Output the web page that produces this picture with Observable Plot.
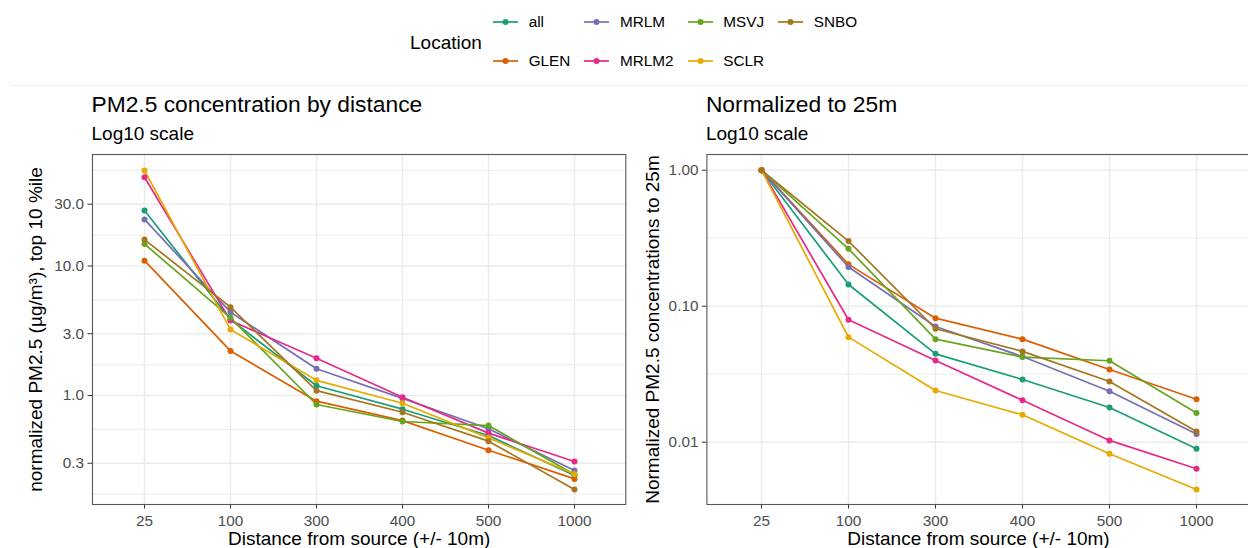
<!DOCTYPE html>
<html><head><meta charset="utf-8">
<script src="https://cdn.jsdelivr.net/npm/d3@7"></script>
<script src="https://cdn.jsdelivr.net/npm/@observablehq/plot@0.6"></script>
<style>
html,body{margin:0;padding:0;width:1248px;height:548px;overflow:hidden;background:#fff;font-family:"Liberation Sans",Arial,sans-serif;}
#root{position:relative;width:1248px;height:548px;overflow:hidden;}
#root svg{position:absolute;top:0;}
.leg-title{position:absolute;left:410px;top:31px;height:24px;line-height:24px;font-size:19px;color:#000;}
.leg{position:absolute;left:493px;top:3px;display:grid;grid-template-rows:38.7px 38.7px;grid-auto-flow:column;column-gap:14px;}
.leg-item{display:flex;align-items:center;font-size:15.3px;color:#000;white-space:nowrap;}
.leg-item svg{position:static !important;margin-right:10.7px;}
.sep{position:absolute;left:10px;top:85px;width:1238px;height:1px;background:#f0f0f0;}
</style></head><body><div id="root"></div>
<script>
// ---- data ----
const distances = ["25","100","300","400","500","1000"];
const locations = ["all","GLEN","MRLM","MRLM2","MSVJ","SCLR","SNBO"];
const palette = ["#1B9E77","#D95F02","#7570B3","#E7298A","#66A61E","#E6AB02","#A6761D"];

// top-10%ile PM2.5 concentration (µg/m3) by distance
const conc_all   = [26.8, 3.86, 1.19, 0.784, 0.491, 0.241];
const conc_GLEN  = [11.0, 2.21, 0.904, 0.64, 0.378, 0.227];
const conc_MRLM  = [22.9, 4.40, 1.61, 0.95, 0.553, 0.264];
const conc_MRLM2 = [48.5, 3.79, 1.94, 0.97, 0.512, 0.309];
const conc_MSVJ  = [14.8, 3.98, 0.852, 0.63, 0.586, 0.245];
const conc_SCLR  = [54.6, 3.23, 1.31, 0.872, 0.471, 0.248];
const conc_SNBO  = [16.0, 4.81, 1.09, 0.743, 0.444, 0.188];

// normalized to the 25 m value
const norm_all   = [1, 0.1444, 0.0446, 0.0289, 0.0180, 0.00893];
const norm_GLEN  = [1, 0.203, 0.0816, 0.0572, 0.0342, 0.0207];
const norm_MRLM  = [1, 0.194, 0.0709, 0.0426, 0.0237, 0.0115];
const norm_MRLM2 = [1, 0.0794, 0.0399, 0.0203, 0.0103, 0.00637];
const norm_MSVJ  = [1, 0.264, 0.0572, 0.0422, 0.0397, 0.0164];
const norm_SCLR  = [1, 0.0592, 0.0240, 0.0159, 0.00822, 0.00449];
const norm_SNBO  = [1, 0.301, 0.0682, 0.0465, 0.0279, 0.0120];

// tick labels / grid breaks
const leftTicks  = [0.3, 1, 3, 10, 30];
const rightTicks = [0.01, 0.1, 1];

const concSeries = [conc_all, conc_GLEN, conc_MRLM, conc_MRLM2, conc_MSVJ, conc_SCLR, conc_SNBO];
const normSeries = [norm_all, norm_GLEN, norm_MRLM, norm_MRLM2, norm_MSVJ, norm_SCLR, norm_SNBO];

function longTable(series) {
  return locations.flatMap((loc, i) => distances.map((d, j) => ({loc, distance: d, value: series[i][j]})));
}
// ggplot-style minor breaks: log-midpoints between consecutive (extended) majors
function minorBreaks(majors) {
  const lg = majors.map(Math.log10);
  const step0 = lg[1] - lg[0], stepN = lg[lg.length-1] - lg[lg.length-2];
  const first = Math.abs(step0 - 1) < 1e-9 ? lg[0] - 1 : Math.floor(lg[0]);
  const last = Math.abs(stepN - 1) < 1e-9 ? lg[lg.length-1] + 1 : Math.ceil(lg[lg.length-1]);
  const full = [first, ...lg, last];
  const out = [];
  for (let i = 0; i < full.length - 1; i++) out.push(Math.pow(10, (full[i] + full[i+1]) / 2));
  return out;
}

const FONT = '"Liberation Sans", Arial, sans-serif';

function panel(o) {
  const minors = minorBreaks(o.majors).filter(v => v > o.yDomain[0] && v < o.yDomain[1]);
  return Plot.plot({
    width: o.width, height: 548,
    marginLeft: o.marginLeft, marginRight: o.marginRight, marginTop: 154, marginBottom: 44,
    style: {fontFamily: FONT, fontSize: "15.3px", background: "transparent", overflow: "visible"},
    x: {type: "point", domain: distances, padding: 0.6},
    y: {type: "log", domain: o.yDomain},
    color: {domain: locations, range: palette},
    marks: [
      Plot.ruleY(minors, {stroke: "#ebebeb", strokeWidth: 0.9}),
      Plot.ruleY(o.majors, {stroke: "#ebebeb", strokeWidth: 1.5}),
      Plot.ruleX(distances, {stroke: "#ebebeb", strokeWidth: 1.5}),
      Plot.axisX({tickSize: 4.5, tickPadding: 6.5, label: null, color: "#4d4d4d", stroke: "#333", fontSize: 15.3}),
      Plot.axisY({ticks: o.majors, tickFormat: o.fmt, tickSize: 4.5, tickPadding: 4, label: null, color: "#4d4d4d", stroke: "#333", fontSize: 15.3}),
      Plot.line(o.data, {x: "distance", y: "value", z: "loc", stroke: "loc", strokeWidth: 1.7}),
      Plot.dot(o.data, {x: "distance", y: "value", fill: "loc", r: 3}),
      Plot.frame({stroke: "#555", strokeWidth: 1.1}),
      Plot.text([o.title], {text: d => d, frameAnchor: "top-left", textAnchor: "start", lineAnchor: "middle", dx: -1, dy: -49.8, fontSize: 22.8, fill: "#000"}),
      Plot.text(["Log10 scale"], {text: d => d, frameAnchor: "top-left", textAnchor: "start", lineAnchor: "middle", dx: -1, dy: -20.7, fontSize: 19, fill: "#000"}),
      Plot.text([o.ylabel], {text: d => d, frameAnchor: "left", textAnchor: "middle", lineAnchor: "middle", dx: o.ylabelDx, rotate: -90, fontSize: 19, fill: "#000"}),
      Plot.text(["Distance from source (+/- 10m)"], {text: d => d, frameAnchor: "bottom", textAnchor: "middle", lineAnchor: "middle", dy: 34.3, fontSize: 19, fill: "#000"})
    ]
  });
}

const root = document.getElementById("root");

const left = panel({
  data: longTable(concSeries), yDomain: [0.144, 72.6], majors: leftTicks, fmt: d3.format(".1f"),
  width: 640, marginLeft: 92, marginRight: 14.7,
  title: "PM2.5 concentration by distance",
  ylabel: "normalized PM2.5 (µg/m³), top 10 %ile", ylabelDx: -57
});
left.style.left = "0px";
root.appendChild(left);

const right = panel({
  data: longTable(normSeries), yDomain: [0.00348, 1.304], majors: rightTicks, fmt: d3.format(".2f"),
  width: 632, marginLeft: 86.4, marginRight: 2.4,
  title: "Normalized to 25m",
  ylabel: "Normalized PM2.5 concentrations to 25m", ylabelDx: -54.4
});
right.style.left = "620px";
root.appendChild(right);

// legend
const sep = document.createElement("div"); sep.className = "sep"; root.appendChild(sep);
const lt = document.createElement("div"); lt.className = "leg-title"; lt.textContent = "Location"; root.appendChild(lt);
const leg = document.createElement("div"); leg.className = "leg";
const color = d3.scaleOrdinal(locations, palette);
locations.forEach(loc => {
  const item = document.createElement("div"); item.className = "leg-item";
  const s = d3.create("svg").attr("width", 25).attr("height", 12);
  s.append("line").attr("x1", 0).attr("x2", 25).attr("y1", 6).attr("y2", 6).attr("stroke", color(loc)).attr("stroke-width", 1.7);
  s.append("circle").attr("cx", 12.5).attr("cy", 6).attr("r", 3).attr("fill", color(loc));
  item.appendChild(s.node());
  const t = document.createElement("span"); t.textContent = loc; item.appendChild(t);
  leg.appendChild(item);
});
root.appendChild(leg);
</script></body></html>
